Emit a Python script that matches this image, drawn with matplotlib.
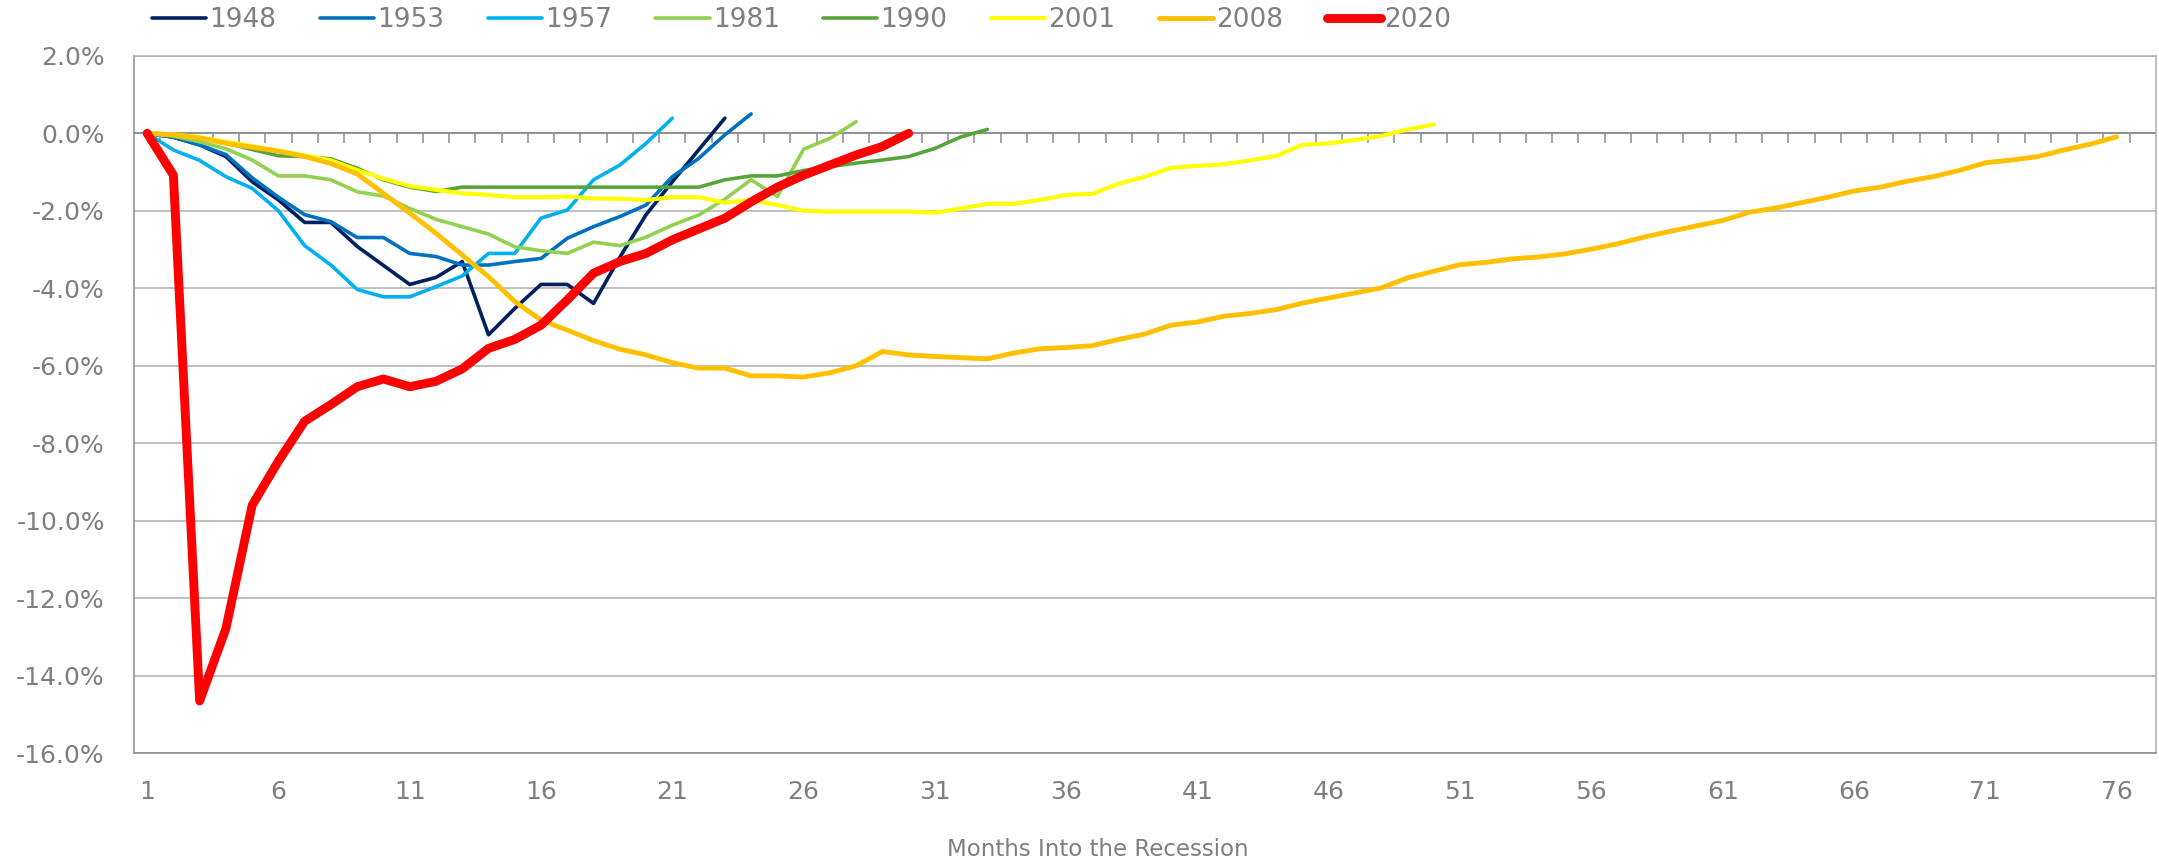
import numpy as np
import matplotlib
matplotlib.use("Agg")
import matplotlib.pyplot as plt
from matplotlib.ticker import FuncFormatter

plt.rcParams['font.family'] = ['DejaVu Sans']

# ---------------- data (percent change from start of recession) ----------------
series_names = ["1948", "1953", "1957", "1981", "1990", "2001", "2008", "2020"]

v1948 = [0, -0.1, -0.3, -0.6, -1.25, -1.72, -2.3, -2.3, -2.92, -3.41, -3.9, -3.72,
         -3.31, -5.2, -4.52, -3.9, -3.9, -4.39, -3.2, -2.1, -1.25, -0.43, 0.39]
v1953 = [0, -0.1, -0.3, -0.55, -1.15, -1.65, -2.1, -2.28, -2.69, -2.69, -3.1, -3.18,
         -3.4, -3.4, -3.31, -3.23, -2.71, -2.41, -2.15, -1.85, -1.12, -0.65, -0.04, 0.5]
v1957 = [0, -0.43, -0.7, -1.12, -1.42, -2.0, -2.9, -3.4, -4.03, -4.22, -4.22, -3.96,
         -3.68, -3.1, -3.1, -2.19, -1.98, -1.2, -0.82, -0.26, 0.39]
v1981 = [0, -0.07, -0.22, -0.4, -0.69, -1.1, -1.1, -1.2, -1.51, -1.62, -1.94, -2.22,
         -2.41, -2.6, -2.93, -3.03, -3.1, -2.81, -2.9, -2.68, -2.37, -2.11, -1.7, -1.2,
         -1.63, -0.41, -0.13, 0.3]
v1990 = [0, -0.02, -0.12, -0.25, -0.42, -0.58, -0.6, -0.66, -0.9, -1.2, -1.39, -1.5,
         -1.39, -1.39, -1.39, -1.39, -1.39, -1.39, -1.39, -1.39, -1.39, -1.39,
         -1.2, -1.1, -1.1, -0.96, -0.86, -0.77, -0.69, -0.6, -0.39, -0.09, 0.1]
v2001 = [0, -0.03, -0.1, -0.22, -0.33, -0.45, -0.57, -0.7, -0.95, -1.17, -1.36, -1.46,
         -1.55, -1.59, -1.65, -1.65, -1.63,
         -1.68, -1.69, -1.72, -1.65, -1.65, -1.79, -1.72, -1.85, -2.0, -2.02, -2.02,
         -2.02, -2.02, -2.05, -1.94, -1.82,
         -1.82, -1.72, -1.59, -1.56, -1.3, -1.12, -0.89, -0.84, -0.8, -0.7, -0.58,
         -0.3, -0.26, -0.17, -0.07, 0.1, 0.23]
v2008 = [0, -0.04, -0.12, -0.26, -0.36, -0.46, -0.6, -0.78, -1.05, -1.55, -2.06, -2.58,
         -3.14, -3.7, -4.34, -4.82, -5.08, -5.35, -5.57, -5.72,
         -5.92, -6.06, -6.06, -6.26, -6.26, -6.29, -6.18, -6.0, -5.63, -5.72, -5.76,
         -5.79, -5.82,
         -5.67, -5.56, -5.53, -5.48, -5.32, -5.18, -4.95, -4.87, -4.72, -4.65, -4.55,
         -4.38, -4.25, -4.12, -3.99, -3.73, -3.56, -3.39, -3.33, -3.24,
         -3.19, -3.11, -2.99, -2.85, -2.68, -2.53, -2.39, -2.25, -2.04, -1.93, -1.79,
         -1.65, -1.49, -1.39, -1.24, -1.12, -0.96, -0.76, -0.69, -0.6, -0.43, -0.28, -0.09]
v2020 = [0, -1.08, -14.65, -12.78, -9.6, -8.46, -7.43, -7.0, -6.54, -6.34, -6.54, -6.4,
         -6.08, -5.55, -5.32, -4.95, -4.3, -3.61, -3.31, -3.1, -2.75, -2.47, -2.19,
         -1.77, -1.39, -1.08, -0.82, -0.56, -0.34, 0.0]

series_values = [v1948, v1953, v1957, v1981, v1990, v2001, v2008, v2020]
colors = ["#002060", "#0070C0", "#00B0F0", "#92D050", "#56A53B", "#FFFF00", "#FFC000", "#FF0000"]
widths = [2.6, 2.6, 2.6, 2.6, 2.6, 3.0, 3.5, 6.4]

n_months = 77
xtick_months = list(range(1, 77, 5))
ytick_vals = list(range(-16, 3, 2))

# ---------------- figure ----------------
W, H = 2159, 861
fig = plt.figure(figsize=(W / 100, H / 100), dpi=100)
ax = fig.add_axes([134 / W, 107.7 / H, 2022 / W, 697.5 / H])

text_col = "#7F7F7F"
grid_col = "#ADADAD"
spine_col = "#8C8C8C"

for name, vals, c, lw in zip(series_names, series_values, colors, widths):
    x = np.arange(1, len(vals) + 1)
    ax.plot(x, vals, color=c, lw=lw, label=name, solid_capstyle='round',
            solid_joinstyle='round', zorder=3)

ax.set_xlim(0.5, n_months + 0.5)
ax.set_ylim(-16, 2)
ax.set_yticks(ytick_vals)
ax.yaxis.set_major_formatter(FuncFormatter(lambda v, p: f"{v:.1f}%"))
ax.set_xticks(xtick_months)
ax.set_xticklabels([str(m) for m in xtick_months])
ax.tick_params(axis='y', length=0, pad=21, labelsize=18, labelcolor=text_col)
ax.tick_params(axis='x', length=0, pad=19, labelsize=18, labelcolor=text_col)

ax.set_axisbelow(True)
ax.yaxis.grid(True, color=grid_col, lw=1.1)
ax.xaxis.grid(False)
for s in ax.spines.values():
    s.set_color(grid_col)
    s.set_linewidth(1.1)
ax.spines['left'].set_color(spine_col)
ax.spines['bottom'].set_color(spine_col)

# category axis crossing at 0 with tick marks between categories
sec = ax.secondary_xaxis(0, transform=ax.transData)
sec.set_xticks(np.arange(1.5, n_months, 1.0))
sec.tick_params(axis='x', direction='out', length=7.2, width=1.1, color=spine_col,
                labelbottom=False, labeltop=False)
sec.spines['bottom'].set_color(spine_col)
sec.spines['bottom'].set_linewidth(1.3)
sec.set_zorder(2)

ax.set_xlabel("Months Into the Recession", fontsize=16.5, color=text_col)
ax.xaxis.label.set_va('center')
ax.xaxis.set_label_coords((1098 - 134) / 2022, (12 - 107.7) / 697.5)

fig.legend(loc='center left', bbox_to_anchor=(152 / W, 1 - 20 / H), ncol=8,
           frameon=False, fontsize=19, handlelength=2.05, handletextpad=0.12,
           columnspacing=1.65, borderpad=0, borderaxespad=0, labelcolor=text_col)

fig.savefig("out.png", dpi=100)
